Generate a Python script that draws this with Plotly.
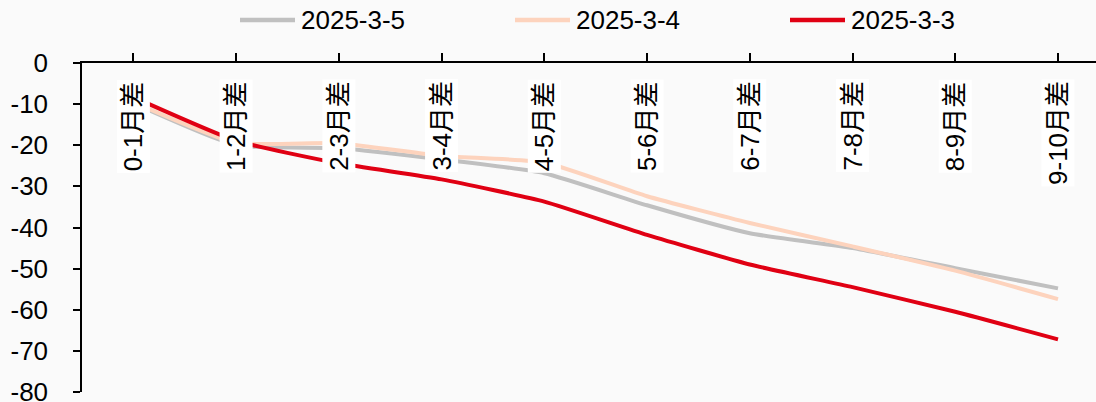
import plotly.graph_objects as go

categories = ["0-1月差", "1-2月差", "2-3月差", "3-4月差", "4-5月差",
              "5-6月差", "6-7月差", "7-8月差", "8-9月差", "9-10月差"]

s_2025_3_5 = [-9.8, -20.0, -20.7, -23.4, -26.8, -34.6, -41.4, -45.0, -49.9, -54.8]
s_2025_3_4 = [-9.5, -19.4, -19.5, -22.6, -24.2, -32.4, -38.9, -44.6, -50.5, -57.4]
s_2025_3_3 = [-8.3, -18.9, -24.4, -28.3, -33.7, -41.8, -49.0, -54.5, -60.5, -67.2]

y_ticks = [0, -10, -20, -30, -40, -50, -60, -70, -80]
y_tick_text = ["0", "-10", "-20", "-30", "-40", "-50", "-60", "-70", "-80"]

series = [
    ("2025-3-5", s_2025_3_5, "#c0c0c0"),
    ("2025-3-4", s_2025_3_4, "#fdd3bd"),
    ("2025-3-3", s_2025_3_3, "#e00013"),
]

FONT = "Liberation Sans, Arial, Noto Sans CJK SC, sans-serif"
W, H = 1096, 402
ML, MR, MT, MB = 82, 0, 63, 10
PW, PH = W - ML - MR, H - MT - MB


def px_to_paper_x(px):
    return (px - ML) / PW


def px_to_paper_y(py):
    return (H - MB - py) / PH


fig = go.Figure()
for name, vals, color in series:
    fig.add_trace(go.Scatter(
        x=list(range(len(categories))), y=vals, name=name, mode="lines",
        line=dict(color=color, width=4, shape="spline", smoothing=0.5),
        showlegend=False,
    ))

# category labels hang just under the top axis line, on white boxes
for i, cat in enumerate(categories):
    fig.add_annotation(
        x=i, y=1, xref="x", yref="paper", yanchor="top", xanchor="center",
        yshift=-16, text=cat, textangle=-90, showarrow=False,
        bgcolor="white", borderpad=1,
        font=dict(family=FONT, size=26, color="black"),
    )

# legend row drawn above the plot: swatch line + series name
legend_y = px_to_paper_y(20)
for k, (name, _, color) in enumerate(series):
    x0 = 240 + 275 * k
    fig.add_shape(
        type="line", xref="paper", yref="paper",
        x0=px_to_paper_x(x0), x1=px_to_paper_x(x0 + 55),
        y0=legend_y, y1=legend_y,
        line=dict(color=color, width=4.5),
    )
    fig.add_annotation(
        x=px_to_paper_x(x0 + 59), y=legend_y, xref="paper", yref="paper",
        xanchor="left", yanchor="middle", text=name, showarrow=False,
        font=dict(family=FONT, size=26, color="black"),
    )

fig.update_layout(
    width=W, height=H,
    margin=dict(l=ML, r=MR, t=MT, b=MB, autoexpand=False),
    paper_bgcolor="#fafafa", plot_bgcolor="#fafafa",
    font=dict(family=FONT, size=26, color="black"),
    showlegend=False,
    xaxis=dict(
        range=[-0.5, 9.37], side="top", showticklabels=False,
        tickmode="array", tickvals=list(range(len(categories))),
        tickson="boundaries", ticks="outside", ticklen=8, tickwidth=1.5,
        tickcolor="black", showline=True, linecolor="black", linewidth=1.5,
        showgrid=False, zeroline=False, automargin=False,
    ),
    yaxis=dict(
        range=[-80, 0], tickmode="array", tickvals=y_ticks, ticktext=y_tick_text,
        ticks="outside", ticklen=7, tickwidth=1.5, tickcolor="black",
        showline=True, linecolor="black", linewidth=1.5, showgrid=False,
        zeroline=False, ticklabeloverflow="allow", ticklabelstandoff=20,
        tickfont=dict(size=26), automargin=False,
    ),
)

fig.write_html("out.html")
